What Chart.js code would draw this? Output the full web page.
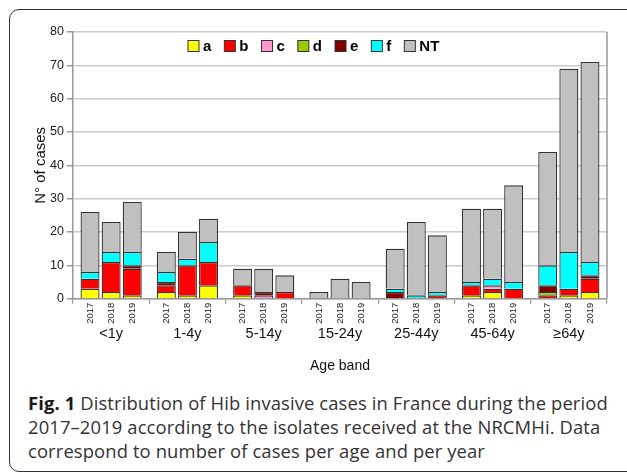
<!DOCTYPE html>
<html>
<head>
<meta charset="utf-8">
<script src="https://cdn.jsdelivr.net/npm/chart.js@4.4.1/dist/chart.umd.min.js"></script>
<style>
  html, body { margin: 0; padding: 0; background: #fff; width: 627px; height: 474px; overflow: hidden; }
  #frame { position: absolute; left: 9px; top: 9px; width: 660px; height: 461px; border: 1.5px solid #333; border-radius: 10px; }
  #chart { position: absolute; left: 0; top: 0; }
  #caption { position: absolute; left: 28px; top: 391px; font-family: 'Open Sans', sans-serif; font-size: 18.4px;
             line-height: 24px; color: #333; white-space: nowrap; letter-spacing: 0.12px; }
  #caption b { font-weight: 700; color: #1a1a1a; }
</style>
</head>
<body>
<div id="frame"></div>
<canvas id="chart" width="627" height="385"></canvas>
<div id="caption"><b>Fig. 1</b> Distribution of Hib invasive cases in France during the period<br>2017–2019 according to the isolates received at the NRCMHi. Data<br>correspond to number of cases per age and per year</div>
<script>
const ageBands = ['<1y', '1-4y', '5-14y', '15-24y', '25-44y', '45-64y', '≥64y'];
const years = ['2017', '2018', '2019'];
const serotypes = ['a', 'b', 'c', 'd', 'e', 'f', 'NT'];

// cases per serotype, 3 values (2017, 2018, 2019) for each age band in turn
const casesA  = [3, 2, 1,   2, 1, 4,   1, 0, 0,   0, 0, 0,   0, 0, 0,    1, 2, 0,    0, 1, 2];
const casesB  = [3, 9, 8,   2, 9, 7,   3, 0, 2,   0, 0, 0,   0, 0, 1,    3, 1, 3,    1, 2, 4];
const casesC  = [0, 0, 0,   0, 0, 0,   0, 1, 0,   0, 0, 0,   0, 0, 0,    0, 1, 0,    0, 0, 0];
const casesD  = [0, 0, 0,   0, 0, 0,   0, 0, 0,   0, 0, 0,   0, 0, 0,    0, 0, 0,    1, 0, 0];
const casesE  = [0, 0, 1,   1, 0, 0,   0, 1, 0,   0, 0, 0,   2, 0, 0,    0, 0, 0,    2, 0, 1];
const casesF  = [2, 3, 4,   3, 2, 6,   0, 0, 0,   0, 0, 0,   1, 1, 1,    1, 2, 2,    6, 11, 4];
const casesNT = [18, 9, 15, 6, 8, 7,   5, 7, 5,   2, 6, 5,   12, 22, 17, 22, 21, 29, 34, 55, 60];

const yTicks = [0, 10, 20, 30, 40, 50, 60, 70, 80];

const allCases = [casesA, casesB, casesC, casesD, casesE, casesF, casesNT];
const colors = ['#ffff00', '#ff0000', '#ff99cc', '#99cc00', '#800000', '#00ffff', '#c0c0c0'];
const FONT = '"Liberation Sans", Arial, sans-serif';

const datasets = [];
years.forEach((yr, yi) => {
    serotypes.forEach((s, si) => {
        datasets.push({
            label: s,
            stack: yr,
            data: ageBands.map((b, bi) => {
                const v = allCases[si][bi * 3 + yi];
                return v === 0 ? null : v;
            }),
            backgroundColor: colors[si],
            borderColor: '#333',
            borderWidth: 1.3,
            categoryPercentage: 0.83,
            barPercentage: 0.9
        });
    });
});

// legend drawn inside the plot, at the top
const insideLegend = {
    id: 'insideLegend',
    afterDraw(chart) {
        const ctx = chart.ctx;
        const area = chart.chartArea;
        let x = area.left + 115;
        const y = area.top + 14;
        ctx.save();
        ctx.font = 'bold 15px ' + FONT;
        ctx.textBaseline = 'middle';
        ctx.textAlign = 'left';
        serotypes.forEach((s, i) => {
            ctx.fillStyle = colors[i];
            ctx.fillRect(x, y - 5.5, 11, 11);
            ctx.strokeStyle = '#333';
            ctx.lineWidth = 1;
            ctx.strokeRect(x, y - 5.5, 11, 11);
            ctx.fillStyle = '#000';
            ctx.fillText(s, x + 15, y + 1);
            x += 15 + ctx.measureText(s).width + 13;
        });
        ctx.restore();
    }
};

// year labels under each bar, and right border of the plot
const yearLabels = {
    id: 'yearLabels',
    afterDatasetsDraw(chart) {
        const ctx = chart.ctx;
        const area = chart.chartArea;
        ctx.save();
        ctx.strokeStyle = '#999';
        ctx.lineWidth = 1.5;
        ctx.beginPath();
        ctx.moveTo(area.right, area.top);
        ctx.lineTo(area.right, area.bottom);
        ctx.stroke();
        ctx.font = '9.5px ' + FONT;
        ctx.fillStyle = '#222';
        ctx.textAlign = 'right';
        ctx.textBaseline = 'middle';
        years.forEach((yr, yi) => {
            const meta = chart.getDatasetMeta(yi * serotypes.length + serotypes.length - 1);
            meta.data.forEach(bar => {
                ctx.save();
                ctx.translate(bar.x, area.bottom + 4);
                ctx.rotate(-Math.PI / 2);
                ctx.fillText(yr, 0, 0);
                ctx.restore();
            });
        });
        ctx.restore();
    }
};

new Chart(document.getElementById('chart'), {
    type: 'bar',
    data: { labels: ageBands, datasets: datasets },
    plugins: [insideLegend, yearLabels],
    options: {
        responsive: false,
        animation: false,
        layout: { padding: { left: 32, right: 20, top: 32, bottom: 10 } },
        plugins: {
            legend: { display: false },
            tooltip: { enabled: false }
        },
        scales: {
            x: {
                stacked: true,
                afterFit: scale => { scale.height = 76.3; },
                grid: { drawOnChartArea: false, drawTicks: true, tickLength: 5, color: '#999', lineWidth: 1.2, offset: true },
                border: { color: '#999', width: 1.5 },
                ticks: { padding: 22, color: '#111', maxRotation: 0, font: { size: 14.5, family: FONT } },
                title: { display: true, text: 'Age band', color: '#111', padding: 0, font: { size: 14, family: FONT } }
            },
            y: {
                stacked: true,
                min: 0,
                max: 80,
                afterFit: scale => { scale.width = 41; },
                afterBuildTicks: scale => { scale.ticks = yTicks.map(v => ({ value: v })); },
                grid: { color: '#cccccc', lineWidth: 1.5, tickLength: 6, tickColor: '#999' },
                border: { color: '#999', width: 1.5 },
                ticks: { padding: 3, color: '#222', font: { size: 12.5, family: FONT } },
                title: { display: true, text: 'N° of cases', color: '#111', padding: 0, font: { size: 15, family: FONT } }
            }
        }
    }
});
</script>
</body>
</html>
